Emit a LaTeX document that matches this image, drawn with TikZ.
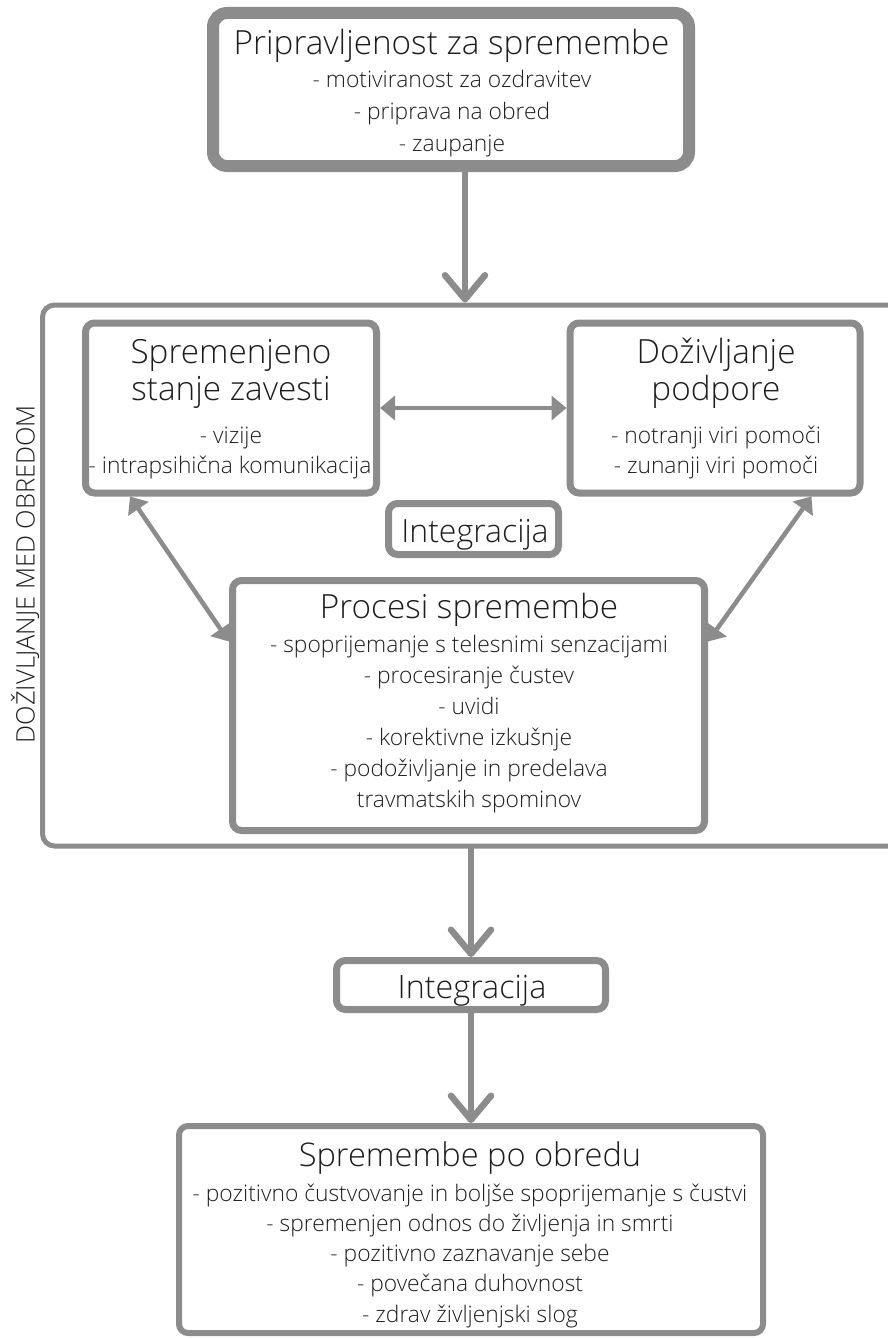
\documentclass[tikz,border=0pt]{standalone}
\usepackage{fontspec}
\setmainfont{Open Sans Light}
\usetikzlibrary{arrows.meta}
\definecolor{lineg}{RGB}{140,140,140}
\definecolor{txt}{RGB}{30,30,30}
\begin{document}
\begin{tikzpicture}[x=1pt,y=-1pt,
  box/.style={draw=lineg, line width=7pt, rounded corners=9pt, inner sep=0pt, fill=white},
  bigbox/.style={draw=lineg, line width=12pt, rounded corners=14pt, inner sep=0pt, fill=white},
  ttl/.style={font=\fontsize{33.3}{38}\selectfont, text=txt, inner sep=0pt, anchor=base},
  itm/.style={font=\fontsize{22.8}{26}\selectfont, text=txt, inner sep=0pt, anchor=base},
  varrow/.style={draw=lineg, line width=6.5pt, -{Straight Barb[length=24pt,width=40pt,round]}},
  darrow/.style={draw=lineg, line width=4.5pt, {Triangle[length=15pt,width=24pt]}-{Triangle[length=15pt,width=24pt]}}
]
\useasboundingbox (0,0) rectangle (887,1338);
\fill[white] (0,0) rectangle (887,1338);

% container
\draw[lineg, line width=5pt, rounded corners=12pt] (900,305) -- (42.5,305) -- (42.5,846) -- (900,846);
\node[font=\fontsize{25.5}{30}\selectfont, text=txt, inner sep=0pt, rotate=90] (side) at (25,574) {DOŽIVLJANJE MED OBREDOM};

% top box
\node[bigbox, minimum width=476pt, minimum height=153pt] (pre) at (451,89.5) {};
\node[ttl] (preT) at (451.5,55) {Pripravljenost za spremembe};
\foreach \t [count=\i] in {{- motiviranost za ozdravitev},{- priprava na obred},{- zaupanje}}
  \node[itm] (preI\i) at (452,{88+(\i-1)*31.5}) {\t};

% left box
\node[box, minimum width=291pt, minimum height=170pt] (sst) at (231,408) {};
\node[ttl] (sstT1) at (231,363) {Spremenjeno};
\node[ttl] (sstT2) at (231,400) {stanje zavesti};
\node[itm] (sstI1) at (231,443) {- vizije};
\node[itm] (sstI2) at (230,473) {- intrapsihična komunikacija};

% right box
\node[box, minimum width=290pt, minimum height=170pt] (dp) at (715,408) {};
\node[ttl] (dpT1) at (716,363) {Doživljanje};
\node[ttl] (dpT2) at (716,400) {podpore};
\node[itm] (dpI1) at (716,443) {- notranji viri pomoči};
\node[itm] (dpI2) at (716,473) {- zunanji viri pomoči};

% integracija 1
\node[box, minimum width=170pt, minimum height=51pt] (integA) at (473.5,529) {};
\node[ttl, font=\fontsize{32}{38}\selectfont] (integAT) at (475,542) {Integracija};

% procesi
\node[box, minimum width=472pt, minimum height=250pt] (proc) at (468.5,705.5) {};
\node[ttl] (procT) at (469,618) {Procesi spremembe};
\foreach \t [count=\i] in {{- spoprijemanje s telesnimi senzacijami},{- procesiranje čustev},{- uvidi},{- korektivne izkušnje},{- podoživljanje in predelava},{travmatskih spominov}}
  \node[itm] (procI\i) at (469,{652+(\i-1)*31}) {\t};

% integracija 2
\node[box, minimum width=269pt, minimum height=49pt] (integB) at (471,985) {};
\node[ttl, font=\fontsize{32.3}{38}\selectfont] (integBT) at (472,998) {Integracija};

% post
\node[box, line width=6pt, minimum width=584pt, minimum height=207pt] (post) at (471,1229.5) {};
\node[ttl, font=\fontsize{32.6}{38}\selectfont] (postT) at (470,1166) {Spremembe po obredu};
\foreach \t [count=\i] in {{- pozitivno čustvovanje in boljše spoprijemanje s čustvi},{- spremenjen odnos do življenja in smrti},{- pozitivno zaznavanje sebe},{- povečana duhovnost},{- zdrav življenjski slog}}
  \node[itm] (postI\i) at (470,{1201+(\i-1)*30.3}) {\t};

% connectors
\coordinate (contTop) at (465,302.5);
\coordinate (contBot) at (471,846);
\draw[varrow] ([xshift=14pt]pre.south) -- (contTop);
\draw[varrow] (contBot) -- (integB.north);
\draw[varrow] (integB.south) -- (post.north);
\draw[darrow] (sst.east) -- (dp.west);
\draw[darrow] ([xshift=48pt]sst.south west) -- ([yshift=64pt]proc.west);
\draw[darrow] ([xshift=-52pt]dp.south east) -- ([yshift=64pt]proc.east);
\end{tikzpicture}
\end{document}
